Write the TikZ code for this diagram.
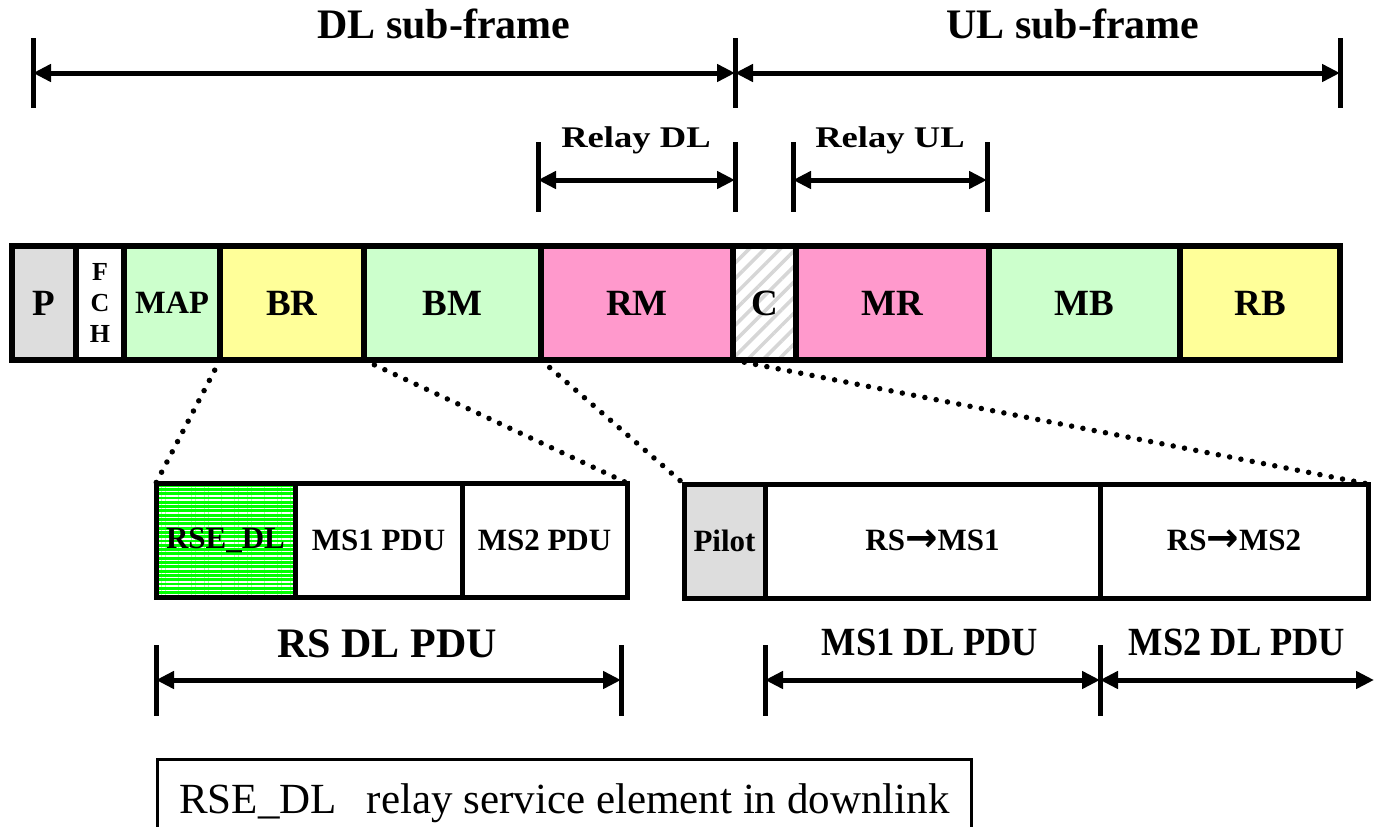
\documentclass[tikz,border=0pt]{standalone}
\usepackage{fontspec}
\setmainfont{Liberation Serif}
\newfontfamily\arrowfont{DejaVu Sans}
\usepackage{graphicx}
\usetikzlibrary{arrows.meta,patterns.meta}
\definecolor{cgray}{HTML}{DDDDDD}
\definecolor{cgreen}{HTML}{CCFFCC}
\definecolor{cyellow}{HTML}{FFFF99}
\definecolor{cpink}{HTML}{FF99CC}
\definecolor{cbright}{HTML}{00FF00}
\definecolor{chatch}{HTML}{D6D6D6}
\newcommand{\rarr}{\raisebox{-1pt}{\scalebox{1.25}[1.3]{\arrowfont\bfseries\char"2192}}}
\begin{document}
\begin{tikzpicture}[x=1pt,y=-1pt,
  cell/.style={draw, line width=5.5pt, rectangle, inner sep=0pt, outer sep=0pt,
    minimum height=114pt, font=\fontsize{37}{42}\selectfont\bfseries},
  subcell/.style={draw, line width=5pt, rectangle, inner sep=0pt, outer sep=0pt,
    minimum height=114pt, font=\fontsize{31}{36}\selectfont\bfseries},
  tick/.style={line width=5pt},
  dim/.style={line width=5pt, {Triangle[length=18pt,width=17pt]}-{Triangle[length=18pt,width=17pt]}},
  dots/.style={line width=5.5pt, line cap=round, dash pattern=on 0pt off 11.5pt},
  biglabel/.style={font=\fontsize{42}{50}\selectfont\bfseries, anchor=base, inner sep=0pt},
  pdulabel/.style={font=\fontsize{40}{48}\selectfont\bfseries, anchor=base, inner sep=0pt},
  midlabel/.style={font=\fontsize{30}{36}\selectfont\bfseries, anchor=base, inner sep=0pt},
]
\useasboundingbox (0,0) rectangle (1374,827);

% ---- main frame bar
\node[cell, fill=cgray,   minimum width=64pt]  (P)   at (44,303)   {P};
\node[cell, fill=white,   minimum width=48pt, align=center,
      font=\fontsize{26}{31}\selectfont\bfseries] (FCH) at (100,303) {F\\C\\H};
\node[cell, fill=cgreen,  minimum width=96pt, font=\fontsize{32.5}{38}\selectfont\bfseries] (MAP) at (172,303) {MAP};
\node[cell, fill=cyellow, minimum width=144pt] (BR)  at (292,303)   {BR};
\node[cell, fill=cgreen,  minimum width=177pt] (BM)  at (452.5,303) {BM};
\node[cell, fill=cpink,   minimum width=192pt] (RM)  at (637,303)   {RM};
\node[cell, preaction={fill=white}, pattern={Lines[angle=45,distance=11pt,line width=3.5pt]},
      pattern color=chatch, minimum width=63pt] (C) at (764.5,303) {C};
\node[cell, fill=cpink,   minimum width=193pt] (MR)  at (892.5,303) {MR};
\node[cell, fill=cgreen,  minimum width=191pt] (MB)  at (1084.5,303) {MB};
\node[cell, fill=cyellow, minimum width=160pt] (RB)  at (1260,303)  {RB};

% ---- RS DL PDU bar
\node[subcell, preaction={fill=cbright}, pattern={Lines[angle=0,distance=4.3pt,line width=1.4pt]},
      pattern color=white, minimum width=139pt] (RSE) at (225.5,540) {RSE\_DL};
\node[subcell, fill=white, minimum width=167pt] (MSA) at (378.5,540) {MS1 PDU};
\node[subcell, fill=white, minimum width=165pt] (MSB) at (544.5,540) {MS2 PDU};

% ---- relay bar
\node[subcell, fill=cgray, minimum width=81pt] (Pilot) at (724.5,541) {Pilot};
\node[subcell, fill=white, minimum width=335pt] (RSA) at (932.5,541) {RS\rarr MS1};
\node[subcell, fill=white, minimum width=268pt] (RSB) at (1234,541) {RS\rarr MS2};

% ---- dotted zoom lines
\draw[dots] (MAP.south east) -- (RSE.north west);
\draw[dots] (BR.south east) -- (MSB.north east);
\draw[dots] (BM.south east) -- (Pilot.north west);
\draw[dots] (RM.south east) -- (RSB.north east);

% ---- top dimension arrows
\coordinate (tA) at (33,73);
\coordinate (tB) at (735,73);
\coordinate (tC) at (1340,73);
\foreach \c in {tA,tB,tC} \draw[tick] ([yshift=35pt]\c) -- ([yshift=-35pt]\c);
\draw[dim] (tA) -- (tB);
\draw[dim] (tB) -- (tC);
\node[biglabel] (dltxt) at (444,38) {DL sub-frame};
\node[biglabel] (ultxt) at (1073,38) {UL sub-frame};

% ---- relay dimension arrows
\coordinate (rA) at (538,180);
\coordinate (rB) at (735,180);
\coordinate (rC) at (793,180);
\coordinate (rD) at (987,180);
\foreach \c in {rA,rB,rC,rD} \draw[tick] ([yshift=38pt]\c) -- ([yshift=-32pt]\c);
\draw[dim] (rA) -- (rB);
\draw[dim] (rC) -- (rD);
\node[midlabel] (rdl) at (636,147) {\scalebox{1.22}[1]{Relay DL}};
\node[midlabel] (rul) at (890,147) {\scalebox{1.22}[1]{Relay UL}};

% ---- bottom dimension arrows
\coordinate (bA) at (156,680);
\coordinate (bB) at (621,680);
\coordinate (bC) at (765,680);
\coordinate (bD) at (1100,680);
\coordinate (bE) at (1374,680);
\foreach \c in {bA,bB,bC,bD} \draw[tick] ([yshift=35pt]\c) -- ([yshift=-36pt]\c);
\draw[dim] (bA) -- (bB);
\draw[dim] (bC) -- (bD);
\draw[dim] (bD) -- (bE);
\node[pdulabel, font=\fontsize{42}{50}\selectfont\bfseries] (rsdl) at (387,657) {RS DL PDU};
\node[pdulabel] (ms1dl) at (930,655) {\scalebox{0.91}[1]{MS1 DL PDU}};
\node[pdulabel] (ms2dl) at (1237,655) {\scalebox{0.91}[1]{MS2 DL PDU}};

% ---- legend
\node[draw, line width=2.5pt, anchor=north west, inner xsep=22pt, inner ysep=0pt,
      minimum width=814pt, minimum height=88pt, font=\fontsize{43}{50}\selectfont]
  (legend) at (156,758) {RSE\_DL\hspace*{30pt}relay service element in downlink};
\end{tikzpicture}
\end{document}
